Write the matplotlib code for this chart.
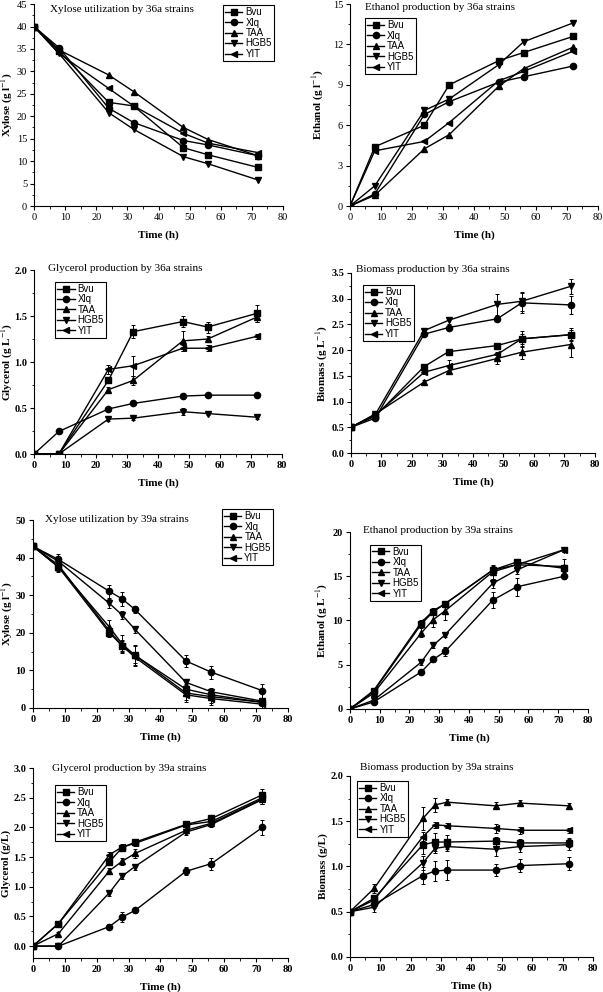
import matplotlib
matplotlib.use("Agg")
import matplotlib.pyplot as plt
from matplotlib.ticker import MultipleLocator, AutoMinorLocator, FormatStrFormatter

plt.rcParams['font.family'] = ['Liberation Serif', 'DejaVu Serif']
plt.rcParams['mathtext.fontset'] = 'stix'

# strains and markers
strains = ['Bvu', 'Xlq', 'TAA', 'HGB5', 'YIT']
markers = ['s', 'o', '^', 'v', '<']

time_36a = [0, 8, 24, 32, 48, 56, 72]
time_39a = [0, 8, 24, 28, 32, 48, 56, 72]

# --- 36a strains ---
xylose_36a = {
    'Bvu':  [40, 34.5, 23.1, 22.3, 13.0, 11.4, 8.6],
    'Xlq':  [40, 35.3, 21.8, 18.6, 14.6, 13.6, 11.2],
    'TAA':  [40, 34.8, 29.2, 25.5, 17.5, 14.8, 11.2],
    'HGB5': [40, 34.0, 20.8, 17.1, 11.0, 9.4, 5.8],
    'YIT':  [40, 34.0, 26.2, 22.3, 16.2, 14.0, 11.9],
}
ethanol_36a = {
    'Bvu':  [0, 4.4, 6.0, 9.0, 10.8, 11.4, 12.6],
    'Xlq':  [0, 0.9, 6.8, 7.75, 9.2, 9.6, 10.4],
    'TAA':  [0, 0.8, 4.25, 5.3, 8.9, 10.2, 11.8],
    'HGB5': [0, 1.5, 7.1, 7.95, 10.5, 12.2, 13.6],
    'YIT':  [0, 4.1, 4.8, 6.2, 9.3, 10.0, 11.5],
}
glycerol_36a = {
    'Bvu':  [0, 0, 0.80, 1.33, 1.44, 1.38, 1.53],
    'Xlq':  [0, 0.245, 0.49, 0.55, 0.63, 0.64, 0.64],
    'TAA':  [0, 0, 0.70, 0.80, 1.23, 1.25, 1.49],
    'HGB5': [0, 0, 0.38, 0.39, 0.46, 0.44, 0.40],
    'YIT':  [0, 0, 0.92, 0.96, 1.15, 1.15, 1.28],
}
glycerol_36a_err = {
    'Bvu':  [0, 0, 0.03, 0.07, 0.06, 0.06, 0.09],
    'Xlq':  [0, 0, 0.02, 0.02, 0.02, 0.02, 0.02],
    'TAA':  [0, 0, 0.03, 0.05, 0.11, 0.03, 0.05],
    'HGB5': [0, 0, 0.02, 0.02, 0.04, 0.02, 0.02],
    'YIT':  [0, 0, 0.05, 0.11, 0.03, 0.03, 0.03],
}
biomass_36a = {
    'Bvu':  [0.5, 0.72, 1.68, 1.97, 2.09, 2.22, 2.30],
    'Xlq':  [0.5, 0.68, 2.31, 2.44, 2.61, 2.92, 2.88],
    'TAA':  [0.5, 0.76, 1.38, 1.60, 1.84, 1.96, 2.11],
    'HGB5': [0.5, 0.75, 2.38, 2.58, 2.89, 2.95, 3.24],
    'YIT':  [0.5, 0.74, 1.57, 1.70, 1.92, 2.22, 2.30],
}
biomass_36a_err = {
    'Bvu':  [0, 0.02, 0.03, 0.04, 0.05, 0.15, 0.13],
    'Xlq':  [0, 0.02, 0.03, 0.03, 0.05, 0.20, 0.17],
    'TAA':  [0, 0.02, 0.04, 0.05, 0.10, 0.13, 0.25],
    'HGB5': [0, 0.02, 0.03, 0.07, 0.20, 0.18, 0.15],
    'YIT':  [0, 0.02, 0.03, 0.10, 0.05, 0.10, 0.10],
}

# --- 39a strains ---
xylose_39a = {
    'Bvu':  [43, 37.5, 20.0, 16.5, 14.0, 5.0, 3.5, 1.5],
    'Xlq':  [43, 39.5, 31.0, 29.0, 26.2, 12.5, 9.5, 4.6],
    'TAA':  [43, 37.5, 21.5, 17.0, 14.0, 4.0, 3.0, 1.5],
    'HGB5': [43, 39.0, 27.8, 24.7, 20.9, 6.8, 4.3, 1.8],
    'YIT':  [43, 38.0, 20.5, 16.5, 13.5, 3.5, 2.5, 1.0],
}
xylose_39a_err = {
    'Bvu':  [0.5, 1.2, 1.2, 1.5, 2.5, 1.5, 1.5, 1.0],
    'Xlq':  [0.5, 1.5, 1.8, 1.8, 1.0, 1.7, 1.8, 1.9],
    'TAA':  [0.5, 1.0, 2.0, 2.3, 2.7, 2.0, 1.7, 1.0],
    'HGB5': [0.5, 1.0, 1.2, 1.0, 1.0, 1.0, 1.0, 0.8],
    'YIT':  [0.5, 1.0, 1.0, 1.3, 1.5, 2.0, 1.6, 1.0],
}
ethanol_39a = {
    'Bvu':  [0, 2.0, 9.6, 11.0, 11.9, 15.7, 16.6, 15.9],
    'Xlq':  [0, 0.8, 4.2, 5.6, 6.5, 12.3, 13.8, 15.0],
    'TAA':  [0, 1.8, 8.6, 10.1, 11.1, 15.5, 16.3, 16.1],
    'HGB5': [0, 1.0, 5.3, 7.2, 8.4, 14.2, 15.7, 18.0],
    'YIT':  [0, 2.1, 9.8, 11.1, 11.9, 15.7, 16.3, 18.0],
}
ethanol_39a_err = {
    'Bvu':  [0, 0.2, 0.3, 0.3, 0.3, 0.5, 0.3, 0.4],
    'Xlq':  [0, 0.2, 0.2, 0.3, 0.5, 0.9, 1.0, 0.3],
    'TAA':  [0, 0.2, 0.5, 0.8, 1.1, 0.8, 0.5, 0.9],
    'HGB5': [0, 0.2, 0.3, 0.3, 0.3, 0.5, 0.5, 0.3],
    'YIT':  [0, 0.2, 0.3, 0.3, 0.3, 0.3, 0.3, 0.3],
}
glycerol_39a = {
    'Bvu':  [0, 0.38, 1.42, 1.66, 1.75, 2.05, 2.15, 2.55],
    'Xlq':  [0, 0, 0.33, 0.49, 0.60, 1.26, 1.39, 2.00],
    'TAA':  [0, 0.21, 1.27, 1.43, 1.56, 1.95, 2.07, 2.48],
    'HGB5': [0, 0, 0.90, 1.18, 1.34, 1.92, 2.05, 2.47],
    'YIT':  [0, 0.38, 1.54, 1.67, 1.73, 2.04, 2.10, 2.50],
}
glycerol_39a_err = {
    'Bvu':  [0, 0.03, 0.06, 0.05, 0.05, 0.04, 0.05, 0.10],
    'Xlq':  [0, 0.02, 0.05, 0.08, 0.05, 0.07, 0.10, 0.13],
    'TAA':  [0, 0.03, 0.05, 0.06, 0.08, 0.05, 0.05, 0.08],
    'HGB5': [0, 0.02, 0.05, 0.05, 0.05, 0.05, 0.05, 0.08],
    'YIT':  [0, 0.03, 0.05, 0.05, 0.05, 0.03, 0.05, 0.08],
}
biomass_39a = {
    'Bvu':  [0.5, 0.65, 1.24, 1.27, 1.27, 1.28, 1.26, 1.26],
    'Xlq':  [0.5, 0.58, 0.90, 0.95, 0.96, 0.96, 1.01, 1.03],
    'TAA':  [0.5, 0.76, 1.53, 1.68, 1.71, 1.67, 1.70, 1.67],
    'HGB5': [0.5, 0.55, 1.04, 1.20, 1.22, 1.19, 1.22, 1.24],
    'YIT':  [0.5, 0.63, 1.33, 1.46, 1.45, 1.42, 1.40, 1.40],
}
biomass_39a_err = {
    'Bvu':  [0.02, 0.04, 0.10, 0.10, 0.08, 0.05, 0.04, 0.05],
    'Xlq':  [0.02, 0.04, 0.09, 0.11, 0.11, 0.07, 0.07, 0.07],
    'TAA':  [0.02, 0.05, 0.13, 0.08, 0.03, 0.04, 0.03, 0.03],
    'HGB5': [0.02, 0.05, 0.08, 0.05, 0.05, 0.07, 0.06, 0.06],
    'YIT':  [0.02, 0.04, 0.05, 0.03, 0.03, 0.05, 0.04, 0.03],
}

fig = plt.figure(figsize=(6.03, 9.92), dpi=100)


def panel(rect, t, data, err, ylim, ystep, fmt, ylabel, ylab_x, title, title_xy, leg_xy, bold=True):
    ax = fig.add_axes(rect)
    for name, mk in zip(strains, markers):
        if err is not None:
            ax.errorbar(t, data[name], yerr=err[name], fmt='none', ecolor='black',
                        elinewidth=0.7, capsize=1.5, capthick=0.7)
        ax.plot(t, data[name], color='black', marker=mk, markersize=4.5,
                linewidth=1, label=name)
    ax.set_xlim(0, 80)
    ax.set_ylim(*ylim)
    ax.xaxis.set_major_locator(MultipleLocator(10))
    ax.xaxis.set_minor_locator(AutoMinorLocator(2))
    ax.yaxis.set_major_locator(MultipleLocator(ystep))
    ax.yaxis.set_minor_locator(AutoMinorLocator(2))
    if fmt:
        ax.yaxis.set_major_formatter(FormatStrFormatter(fmt))
    ax.spines['top'].set_visible(False)
    ax.spines['right'].set_visible(False)
    ax.tick_params(direction='out', length=3, width=0.8, labelsize=7.5, pad=2)
    ax.tick_params(which='minor', direction='out', length=1.8, width=0.6)
    w = 'bold' if bold else 'normal'
    for lab in ax.get_xticklabels() + ax.get_yticklabels():
        lab.set_fontweight(w)
    ax.set_xlabel('Time (h)', fontsize=8, fontweight='bold', labelpad=6)
    ax.set_ylabel(ylabel, fontsize=8, fontweight='bold')
    ax.yaxis.set_label_coords(ylab_x, 0.5)
    ax.text(title_xy[0], title_xy[1], title, transform=ax.transAxes,
            fontsize=8, va='center', ha='left')
    leg = ax.legend(loc='upper left', bbox_to_anchor=leg_xy, frameon=True, fancybox=False,
                    edgecolor='black', framealpha=1, borderpad=0.2, labelspacing=0.05,
                    handlelength=1.8, handletextpad=0.3, borderaxespad=0,
                    prop={'family': 'Liberation Sans', 'size': 7})
    leg.get_frame().set_linewidth(0.8)
    return ax


panel([0.0564, 0.7923, 0.413, 0.2036], time_36a, xylose_36a, None, (0, 45), 5, None,
      'Xylose (g l$^{-1}$)', -0.076, 'Xylose utilization by 36a strains', (0.064, 0.975),
      (0.759, 0.995), bold=False)
panel([0.5804, 0.7923, 0.4113, 0.2036], time_36a, ethanol_36a, None, (0, 15), 3, None,
      'Ethanol (g l$^{-1}$)', -0.097, 'Ethanol production by 36a strains', (0.06, 0.985),
      (0.06, 0.93), bold=False)
panel([0.0564, 0.5423, 0.4113, 0.1855], time_36a, glycerol_36a, glycerol_36a_err, (0, 2.0), 0.5,
      '%.1f', 'Glycerol (g L$^{-1}$)', -0.076, 'Glycerol production by 36a strains', (0.056, 1.01),
      (0.085, 0.935))
panel([0.582, 0.5433, 0.4046, 0.1815], time_36a, biomass_36a, biomass_36a_err, (0, 3.5), 0.5,
      '%.1f', 'Biomass (g L$^{-1}$)', -0.086, 'Biomass production by 36a strains', (0.02, 1.017),
      (0.049, 0.933))
panel([0.0547, 0.2863, 0.4229, 0.1895], time_39a, xylose_39a, xylose_39a_err, (0, 50), 10, None,
      'Xylose (g l$^{-1}$)', -0.07, 'Xylose utilization by 39a strains', (0.047, 1.005),
      (0.741, 1.058))
panel([0.5804, 0.2853, 0.3947, 0.1784], time_39a, ethanol_39a, ethanol_39a_err, (0, 20), 5, None,
      'Ethanol (g L$^{-1}$)', -0.084, 'Ethanol production by 39a strains', (0.055, 1.011),
      (0.084, 0.927))
panel([0.0547, 0.0343, 0.4229, 0.1915], time_39a, glycerol_39a, glycerol_39a_err, (-0.2, 3.0), 0.5,
      '%.1f', 'Glycerol (g/L)', -0.088, 'Glycerol production by 39a strains', (0.075, 1.0),
      (0.086, 0.91))
panel([0.5804, 0.0353, 0.403, 0.1825], time_39a, biomass_39a, biomass_39a_err, (0, 2.0), 0.5,
      '%.1f', 'Biomass (g/L)', -0.09, 'Biomass production by 39a strains', (0.041, 1.044),
      (0.029, 0.972))

fig.savefig('out.png', dpi=100)
